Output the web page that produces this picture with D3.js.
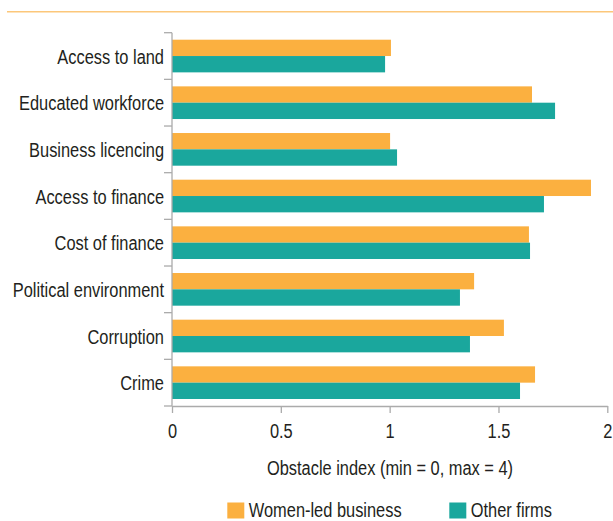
<!DOCTYPE html>
<html>
<head>
<meta charset="utf-8">
<script src="https://cdn.jsdelivr.net/npm/d3@7"></script>
<style>
  html, body { margin: 0; padding: 0; background: #fff; }
  svg { display: block; }
  text { font-family: "Liberation Sans", Arial, sans-serif; fill: #231f20; }
</style>
</head>
<body>
<svg id="chart" width="613" height="521"></svg>
<script>
const categories = ["Access to land", "Educated workforce", "Business licencing", "Access to finance",
  "Cost of finance", "Political environment", "Corruption", "Crime"];
const seriesNames = ["Women-led business", "Other firms"];
const womenLed = [1.006, 1.654, 1.002, 1.925, 1.640, 1.388, 1.525, 1.668];
const otherFirms = [0.979, 1.760, 1.034, 1.709, 1.645, 1.323, 1.369, 1.599];
const xTicks = [0, 0.5, 1, 1.5, 2];
const xTitle = "Obstacle index (min = 0, max = 4)";
const titleText = "Women-led businesses' main obstacles";
const colors = ["#fbb040", "#1aa79d"];

const svg = d3.select("#chart");
const plotLeft = 172, plotRight = 607.3, plotTop = 32.7, plotBottom = 406;

const x = d3.scaleLinear().domain([0, 2]).range([plotLeft, plotRight]);
const y = d3.scaleBand().domain(categories).range([plotTop, plotBottom]).paddingInner(0.3).paddingOuter(0.15);
const sub = d3.scaleBand().domain(seriesNames).range([0, y.bandwidth()]);

// clipped title remnant + rule
const title = svg.append("text").attr("x", 257).attr("y", 0.4).attr("text-anchor", "middle")
  .style("font-size", "20px").style("fill", "#9a9a9a").text(titleText);
svg.append("line").attr("x1", 7).attr("x2", 613).attr("y1", 11.8).attr("y2", 11.8)
  .attr("stroke", "#fcc77a").attr("stroke-width", 1.6);

// bars
const series = [womenLed, otherFirms];
series.forEach((vals, si) => {
  svg.append("g").selectAll("rect").data(categories).join("rect")
    .attr("x", x(0))
    .attr("y", (d) => y(d) + sub(seriesNames[si]))
    .attr("width", (d, i) => x(vals[i]) - x(0))
    .attr("height", sub.bandwidth())
    .attr("fill", colors[si]);
});

// y axis: labels
const yAxis = svg.append("g").attr("transform", `translate(${plotLeft},0)`)
  .call(d3.axisLeft(y).tickSize(0).tickPadding(8));
yAxis.select(".domain").remove();
yAxis.selectAll("text").style("font-size", "20px").attr("dy", "0.38em").attr("fill", "#231f20")
  .style("font-family", "'Liberation Sans', Arial, sans-serif");

// y boundary ticks
const grey = "#ababab";
const bounds = categories.map(c => y(c) - y.step() * y.paddingInner() / 2).concat([plotBottom]);
svg.append("g").selectAll("line").data(bounds).join("line")
  .attr("x1", plotLeft - 8).attr("x2", plotLeft).attr("y1", d => d).attr("y2", d => d)
  .attr("stroke", grey).attr("stroke-width", 1.3);
svg.append("line").attr("x1", plotLeft).attr("x2", plotLeft).attr("y1", plotTop).attr("y2", plotBottom)
  .attr("stroke", grey).attr("stroke-width", 1.3);

// x axis
const xAxis = svg.append("g").attr("transform", `translate(0,${plotBottom})`)
  .call(d3.axisBottom(x).tickValues(xTicks).tickFormat(d3.format("")).tickSize(7).tickPadding(11).tickSizeOuter(0));
xAxis.select(".domain").attr("stroke", grey).attr("stroke-width", 1.3);
xAxis.selectAll(".tick line").attr("stroke", grey).attr("stroke-width", 1.3);
xAxis.selectAll("text").style("font-size", "20px").style("font-family", "'Liberation Sans', Arial, sans-serif").attr("fill", "#231f20");

svg.append("text").attr("x", 390).attr("y", 475).attr("text-anchor", "middle")
  .style("font-size", "20px").text(xTitle);

// legend
const legendX = [227.3, 449.3];
seriesNames.forEach((n, i) => {
  svg.append("rect").attr("x", legendX[i]).attr("y", 502.5).attr("width", 17).attr("height", 16).attr("fill", colors[i]);
  svg.append("text").attr("x", legendX[i] + 21.5).attr("y", 517.3).style("font-size", "20px").text(n);
});

// condense all text to mimic a narrow typeface
svg.selectAll("text").each(function () {
  const w = this.getComputedTextLength();
  this.setAttribute("textLength", (w * 0.82).toFixed(2));
  this.setAttribute("lengthAdjust", "spacingAndGlyphs");
});
title.attr("textLength", 231);
</script>
</body>
</html>
